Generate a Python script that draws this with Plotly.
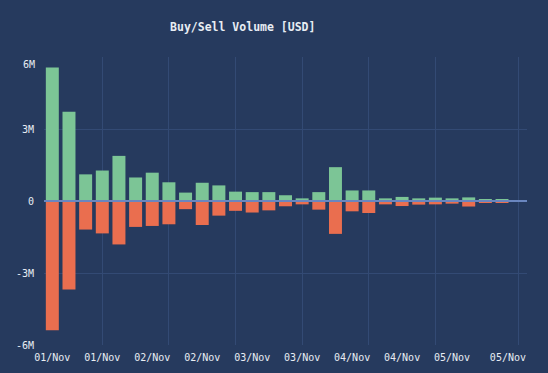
import plotly.graph_objects as go

# ---- data ----
times = [
    "2023-11-01 00:00", "2023-11-01 04:00", "2023-11-01 08:00", "2023-11-01 12:00",
    "2023-11-01 16:00", "2023-11-01 20:00", "2023-11-02 00:00", "2023-11-02 04:00",
    "2023-11-02 08:00", "2023-11-02 12:00", "2023-11-02 16:00", "2023-11-02 20:00",
    "2023-11-03 00:00", "2023-11-03 04:00", "2023-11-03 08:00", "2023-11-03 12:00",
    "2023-11-03 16:00", "2023-11-03 20:00", "2023-11-04 00:00", "2023-11-04 04:00",
    "2023-11-04 08:00", "2023-11-04 12:00", "2023-11-04 16:00", "2023-11-04 20:00",
    "2023-11-05 00:00", "2023-11-05 04:00", "2023-11-05 08:00", "2023-11-05 12:00",
    "2023-11-05 16:00",
]
buy_musd = [5.56, 3.72, 1.11, 1.27, 1.88, 0.98, 1.18, 0.78, 0.35, 0.76,
            0.65, 0.39, 0.37, 0.37, 0.24, 0.11, 0.37, 1.41, 0.44, 0.44,
            0.11, 0.17, 0.11, 0.14, 0.11, 0.15, 0.07, 0.05, 0.03]
sell_musd = [5.39, 3.69, 1.19, 1.35, 1.81, 1.08, 1.04, 0.97, 0.34, 1.00,
             0.61, 0.41, 0.48, 0.39, 0.22, 0.14, 0.36, 1.37, 0.43, 0.50,
             0.14, 0.21, 0.15, 0.14, 0.11, 0.23, 0.08, 0.07, 0.04]

x_tick_vals = ["2023-11-01 00:00", "2023-11-01 12:00", "2023-11-02 00:00", "2023-11-02 12:00",
               "2023-11-03 00:00", "2023-11-03 12:00", "2023-11-04 00:00", "2023-11-04 12:00",
               "2023-11-05 00:00", "2023-11-05 13:25"]
x_tick_text = ["01/Nov", "01/Nov", "02/Nov", "02/Nov", "03/Nov", "03/Nov",
               "04/Nov", "04/Nov", "05/Nov", "05/Nov"]
x_grid_vals = ["2023-11-01 12:00", "2023-11-02 04:00", "2023-11-02 20:00", "2023-11-03 12:00",
               "2023-11-04 04:00", "2023-11-04 20:00", "2023-11-05 16:00"]
y_tick_vals = [-6e6, -3e6, 0, 3e6, 6e6]
y_tick_text = ["-6M", "-3M", "0", "3M", ""]

buy = [v * 1e6 for v in buy_musd]
sell = [-v * 1e6 for v in sell_musd]

BG = "#263a5e"
GRID = "#334a74"
TXT = "#e8edf3"
FONT = "DejaVu Sans Mono"

fig = go.Figure()
fig.add_trace(go.Bar(x=times, y=buy, name="Buy", marker=dict(color="#7cc596", line=dict(width=0))))
fig.add_trace(go.Bar(x=times, y=sell, name="Sell", marker=dict(color="#ea6e4f", line=dict(width=0))))

fig.update_layout(
    width=548, height=373,
    margin=dict(l=44, r=21, t=57, b=28),
    paper_bgcolor=BG, plot_bgcolor=BG,
    barmode="relative", bargap=0.22,
    showlegend=False,
    font=dict(family=FONT, size=10, color=TXT),
    title=dict(text="Buy/Sell Volume [USD]", x=0.443, xref="container", xanchor="center",
               y=0.928, yref="container", yanchor="middle",
               font=dict(family=FONT, size=11.5, color=TXT, weight="bold")),
    xaxis=dict(
        type="date", automargin=False,
        range=["2023-10-31 22:00", "2023-11-05 18:00"],
        tickmode="array", tickvals=x_tick_vals, ticktext=x_tick_text,
        showgrid=False, zeroline=False, showline=False,
        ticks="outside", ticklen=3, tickcolor="rgba(0,0,0,0)",
        minor=dict(tickmode="array", tickvals=x_grid_vals, showgrid=True,
                   gridcolor=GRID, gridwidth=1, ticks=""),
        tickfont=dict(family=FONT, size=10, color=TXT),
    ),
    yaxis=dict(
        automargin=False,
        range=[-6e6, 6e6],
        tickmode="array", tickvals=y_tick_vals, ticktext=y_tick_text,
        showgrid=True, gridcolor=GRID, gridwidth=1,
        zeroline=False, showline=False,
        ticks="outside", ticklen=7, tickcolor="rgba(0,0,0,0)",
        tickfont=dict(family=FONT, size=10, color=TXT),
    ),
)

# zero line drawn above the bars
fig.add_shape(type="line", xref="paper", x0=0, x1=1, yref="y", y0=0, y1=0,
              line=dict(color="#6a86bf", width=2), layer="above")
# top tick label placed flush inside the plot area
fig.add_annotation(text="6M", xref="paper", x=0, xanchor="right", xshift=-7,
                   yref="y", y=6e6, yanchor="middle", yshift=-7, showarrow=False,
                   font=dict(family=FONT, size=10, color=TXT))

fig.write_html(
    "out.html",
    config={"displayModeBar": False},
    post_script="document.body.style.margin='0';document.body.style.padding='0';"
                "document.body.style.background='" + BG + "';"
                "document.body.style.overflow='hidden';",
)
